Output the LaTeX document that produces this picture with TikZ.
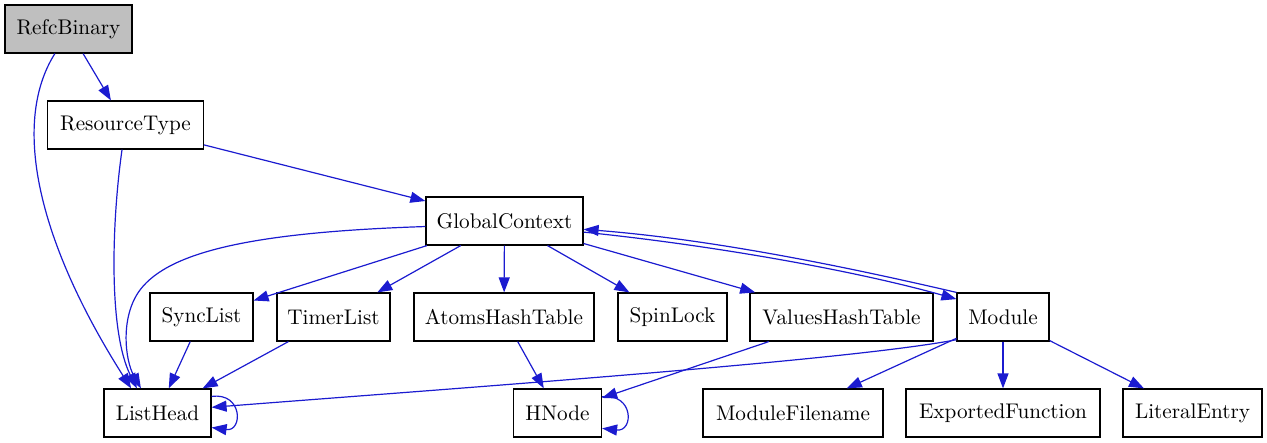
\documentclass[tikz,border=0pt]{standalone}
\usepackage{color}
\usepackage{tikz}
\usetikzlibrary{arrows.meta}
\definecolor{edgeblue}{RGB}{27,27,208}
\definecolor{rootgray}{RGB}{191,191,191}
\tikzstyle{cls} = [rectangle, minimum height=24pt, inner sep=0pt, text
centered, draw=black, line width=0.6pt, font=\fontsize{10.6}{12}\selectfont]
\tikzstyle{root} = [cls, fill=rootgray]
\tikzstyle{arrow} = [edgeblue, line width=0.6pt,
-{Triangle[length=7.5pt,width=5.5pt]}]

\begin{document}
\begin{tikzpicture}[x=0.5pt, y=-0.5pt]
\useasboundingbox (0,0) rectangle (1267,443);

\node(refc)[root, minimum width=63.5pt] at (68.5,29){RefcBinary};
\node(restype)[cls, minimum width=77.8pt] at (125.5,125){ResourceType};
\node(gc)[cls, minimum width=78.5pt] at (504.5,221){GlobalContext};

\node(sync)[cls, minimum width=51.5pt] at (201.5,317){SyncList};
\node(timer)[cls, minimum width=56.5pt] at (333.5,317){TimerList};
\node(atoms)[cls, minimum width=90pt] at (504,317){AtomsHashTable};
\node(spin)[cls, minimum width=54.5pt] at (672.5,317){SpinLock};
\node(values)[cls, minimum width=91.5pt] at (841.5,317){ValuesHashTable};
\node(module)[cls, minimum width=46pt] at (1003,317){Module};

\node(lhead)[cls, minimum width=53.5pt] at (157.5,413){ListHead};
\node(hnode)[cls, minimum width=44pt] at (557.5,413){HNode};
\node(mfile)[cls, minimum width=90pt] at (793,413){ModuleFilename};
\node(expfun)[cls, minimum width=97pt] at (1003,413){ExportedFunction};
\node(literal)[cls, minimum width=69.5pt] at (1192.5,413){LiteralEntry};

\draw[arrow](refc) -- (restype);
\draw[arrow](refc.-119) .. controls (10,125) and (40,245) .. (lhead.137);
\draw[arrow](restype.-98) .. controls (112,220) and (108,330) .. (lhead.130);
\draw[arrow](restype) -- (gc);

\draw[arrow](gc.184) .. controls (260,232) and (170,250) .. (140,290)
  .. controls (120,316.7) and (125,360) .. (lhead.124);
\draw[arrow](gc) -- (sync);
\draw[arrow](gc) -- (timer);
\draw[arrow](gc) -- (atoms);
\draw[arrow](gc) -- (spin);
\draw[arrow](gc) -- (values);
\draw[arrow](gc.-8) .. controls (720,246) and (860,272) .. (module.159);

\draw[arrow](sync) -- (lhead);
\draw[arrow](timer) -- (lhead);
\draw[arrow](atoms) -- (hnode);
\draw[arrow](values) -- (hnode);

\draw[arrow](module.north west) .. controls (860,270) and (720,240) .. (gc.-6);
\draw[arrow](module.206) .. controls (850,360) and (500,385) .. (lhead.6);
\draw[arrow](module) -- (mfile);
\draw[arrow](module) -- (expfun);
\draw[arrow](module) -- (literal);

\draw[arrow](lhead.17) .. controls (243,392) and (243,432) .. (lhead.-15);
\draw[arrow](hnode.20) .. controls (634,393) and (634,432) .. (hnode.-19);

\end{tikzpicture}
\end{document}
